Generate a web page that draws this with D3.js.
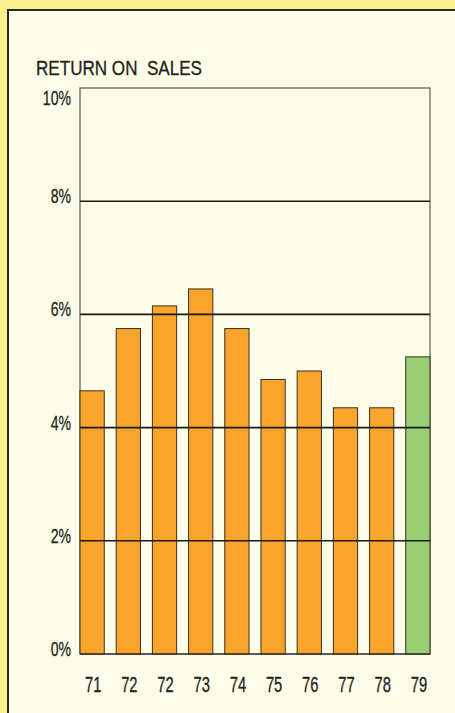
<!DOCTYPE html>
<html><head><meta charset="utf-8">
<script src="https://cdn.jsdelivr.net/npm/d3@7"></script>
<style>
html,body{margin:0;padding:0;background:#faf18c;}
svg{display:block;}
text{font-family:"Liberation Sans",Arial,sans-serif;fill:#232320;}
</style></head><body>
<svg id="chart" width="455" height="713"></svg>
<script>
const title = "RETURN ON  SALES";
const categories = ["71","72","72","73","74","75","76","77","78","79"];
const values = [4.65, 5.75, 6.15, 6.45, 5.75, 4.85, 5.0, 4.35, 4.35, 5.25];
const highlight = [false,false,false,false,false,false,false,false,false,true];
const yTicks = [0, 2, 4, 6, 8, 10];
const yTickLabels = ["0%","2%","4%","6%","8%","10%"];

const svg = d3.select("#chart");
const W = 455, H = 713;
svg.append("rect").attr("x",0).attr("y",0).attr("width",W).attr("height",H).attr("fill","#faf18c");
svg.append("rect").attr("x",8).attr("y",10).attr("width",W).attr("height",H).attr("fill","#fdfde9");
svg.append("path").attr("d",`M8,${H}V10H${W}`).attr("fill","none").attr("stroke","#2a2a22").attr("stroke-width",2);

const plot = {left:80, right:430, top:88, bottom:654};
const x = d3.scaleBand().domain(d3.range(categories.length)).range([plot.left, plot.right]).paddingInner(0.33).paddingOuter(0);
const y = d3.scaleLinear().domain([0,10]).range([plot.bottom, plot.top]);

svg.append("rect").attr("x",plot.left).attr("y",plot.top).attr("width",plot.right-plot.left).attr("height",plot.bottom-plot.top)
  .attr("fill","none").attr("stroke","#3a3a30").attr("stroke-width",1);

svg.append("g").selectAll("rect").data(values).join("rect")
  .attr("x",(d,i)=>x(i)).attr("width",x.bandwidth())
  .attr("y",d=>y(d)).attr("height",d=>y(0)-y(d))
  .attr("fill",(d,i)=>highlight[i]?"#98cf74":"#f9a52b")
  .attr("stroke","#3a3020").attr("stroke-width",1);

svg.append("g").selectAll("line").data(yTicks.filter(t=>t>0 && t<10)).join("line")
  .attr("x1",plot.left).attr("x2",plot.right).attr("y1",d=>y(d)).attr("y2",d=>y(d))
  .attr("stroke","#1a1a14").attr("stroke-width",1.6);
svg.append("line").attr("x1",plot.left).attr("x2",plot.right).attr("y1",y(0)).attr("y2",y(0))
  .attr("stroke","#1a1a14").attr("stroke-width",1.2);

const SX = 0.67;
// y labels (condensed by horizontal scaling)
svg.append("g").selectAll("text").data(yTicks).join("text")
  .attr("transform",d=>`translate(71,${Math.max(y(d)+2, plot.top+17)}) scale(${SX},1)`)
  .attr("text-anchor","end").attr("font-size",21)
  .attr("stroke","#232320").attr("stroke-width",0.3)
  .text((d,i)=>yTickLabels[i]);

// x labels
svg.append("g").selectAll("text").data(categories).join("text")
  .attr("transform",(d,i)=>`translate(${x(i)+x.bandwidth()/2+1},692) scale(${SX},1)`)
  .attr("text-anchor","middle").attr("font-size",22)
  .attr("stroke","#232320").attr("stroke-width",0.3)
  .text(d=>d);

// title
svg.append("text").attr("x",36).attr("y",75).attr("font-size",21)
  .attr("textLength",166).attr("lengthAdjust","spacingAndGlyphs")
  .attr("stroke","#232320").attr("stroke-width",0.3)
  .style("white-space","pre").text(title);
</script>
</body></html>
